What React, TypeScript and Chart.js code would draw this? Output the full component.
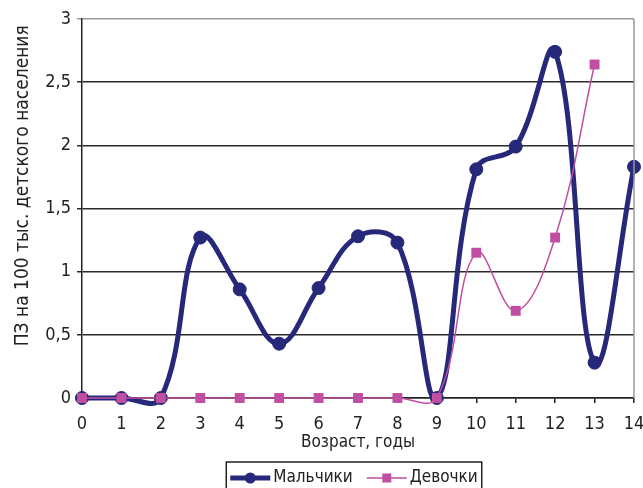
import React, { useEffect, useRef } from "react";
import { Chart, registerables } from "chart.js";

Chart.register(...registerables);

// Возраст (лет) по оси X
const ages = ["0", "1", "2", "3", "4", "5", "6", "7", "8", "9", "10", "11", "12", "13", "14"];
// ПЗ на 100 тыс. детского населения
const boys = [0, 0, 0, 1.27, 0.86, 0.43, 0.87, 1.28, 1.23, 0, 1.81, 1.99, 2.74, 0.28, 1.83];
const girls = [0, 0, 0, 0, 0, 0, 0, 0, 0, 0, 1.15, 0.69, 1.27, 2.64, null];

const boysLabel = "Мальчики";
const girlsLabel = "Девочки";
const xTitle = "Возраст, годы";
const yTitle = "ПЗ на 100 тыс. детского населения";

const NAVY = "#26287a";
const PINK = "#c04fa2";
const TEXT = "#222";
const FONT = "'DejaVu Sans Condensed', 'Liberation Sans Narrow', sans-serif";

// Frame on the right side of the plot, rotated Y title and boxed legend
const decorations = {
  id: "decorations",
  afterDraw(chart: Chart) {
    const { ctx, chartArea } = chart;
    ctx.save();
    ctx.strokeStyle = "#9a9a9a";
    ctx.lineWidth = 1.5;
    ctx.beginPath();
    ctx.moveTo(chartArea.right, chartArea.top);
    ctx.lineTo(chartArea.right, chartArea.bottom);
    ctx.stroke();

    // Y axis title
    ctx.save();
    ctx.translate(23, chartArea.top + chartArea.height * 0.44);
    ctx.rotate(-Math.PI / 2);
    ctx.fillStyle = TEXT;
    ctx.font = `19px ${FONT}`;
    ctx.textAlign = "center";
    ctx.textBaseline = "middle";
    ctx.fillText(yTitle, 0, 0);
    ctx.restore();

    // Legend
    const ds = chart.data.datasets as any[];
    const items = [ds[0], ds[1]];
    ctx.font = `17px ${FONT}`;
    const lineLen = 40;
    const gapAfterLine = 3;
    const gapBetween = 14;
    const widths = items.map((d) => lineLen + gapAfterLine + ctx.measureText(d.label).width);
    const total = widths[0] + widths[1] + gapBetween;
    const pad = 4;
    const cx = (chartArea.left + chartArea.right) / 2 - 4;
    const cy = chartArea.bottom + 80;
    ctx.strokeStyle = TEXT;
    ctx.lineWidth = 1.5;
    ctx.strokeRect(cx - total / 2 - pad, cy - 16, total + pad * 2, 40);
    let x = cx - total / 2;
    items.forEach((d, i) => {
      ctx.strokeStyle = d.borderColor;
      ctx.lineWidth = i === 0 ? 5 : 1.5;
      ctx.beginPath();
      ctx.moveTo(x, cy);
      ctx.lineTo(x + lineLen, cy);
      ctx.stroke();
      ctx.fillStyle = d.backgroundColor;
      if (i === 0) {
        ctx.beginPath();
        ctx.arc(x + lineLen / 2, cy, 5.5, 0, Math.PI * 2);
        ctx.fill();
      } else {
        ctx.fillRect(x + lineLen / 2 - 4.5, cy - 4.5, 9, 9);
      }
      ctx.fillStyle = TEXT;
      ctx.textAlign = "left";
      ctx.textBaseline = "middle";
      ctx.fillText(d.label, x + lineLen + gapAfterLine, cy);
      x += widths[i] + gapBetween;
    });
    ctx.restore();
  },
};

export default function App() {
  const ref = useRef<HTMLCanvasElement>(null);

  useEffect(() => {
    if (!ref.current) return;
    const chart = new Chart(ref.current, {
      type: "line",
      data: {
        labels: ages,
        datasets: [
          {
            label: boysLabel,
            data: boys,
            borderColor: NAVY,
            backgroundColor: NAVY,
            borderWidth: 5,
            pointRadius: 6.5,
            pointBorderWidth: 1,
            pointBorderColor: NAVY,
            pointBackgroundColor: NAVY,
            tension: 0.4,
            order: 1,
            clip: false as any,
          },
          {
            label: girlsLabel,
            data: girls,
            borderColor: PINK,
            backgroundColor: PINK,
            borderWidth: 1.5,
            pointStyle: "rect",
            pointRadius: 7,
            pointBorderWidth: 0,
            pointBackgroundColor: PINK,
            tension: 0.4,
            order: 0,
            clip: false as any,
          },
        ],
      },
      options: {
        responsive: false,
        animation: false,
        devicePixelRatio: 1,
        layout: { padding: { left: 0, right: 9, top: 19, bottom: 32 } },
        elements: { line: { capBezierPoints: false } },
        plugins: {
          legend: { display: false },
          tooltip: { enabled: false },
        },
        scales: {
          x: {
            type: "category",
            offset: false,
            grid: {
              drawOnChartArea: false,
              drawTicks: true,
              tickLength: 5,
              color: TEXT,
              lineWidth: 1.5,
            },
            border: { display: true, color: TEXT, width: 1.5 },
            ticks: {
              color: TEXT,
              font: { family: FONT, size: 18 },
              padding: 11,
              maxRotation: 0,
              autoSkip: false,
            },
            title: {
              display: true,
              text: xTitle,
              color: TEXT,
              font: { family: FONT, size: 17 },
              padding: { top: 0, bottom: 3 },
            },
            afterFit(scale: any) {
              scale.height = 58;
              scale.paddingLeft = 0;
              scale.paddingRight = 0;
            },
          },
          y: {
            min: 0,
            max: 3,
            ticks: {
              stepSize: 0.5,
              color: TEXT,
              font: { family: FONT, size: 18 },
              padding: 6,
              callback: (v: any) => String(v).replace(".", ","),
            },
            grid: {
              color: (c: any) => (c.tick && c.tick.value === 3 ? "#9a9a9a" : "#2a2a2a"),
              lineWidth: 1.5,
              tickLength: 5,
              drawTicks: true,
            },
            border: { display: true, color: TEXT, width: 1.5 },
            afterFit(scale: any) {
              scale.width = 82;
              scale.paddingTop = 0;
              scale.paddingBottom = 0;
            },
          },
        },
      },
      plugins: [decorations],
    });
    return () => chart.destroy();
  }, []);

  return (
    <div style={{ position: "fixed", left: 0, top: 0, width: 643, height: 488, background: "#fff" }}>
      <canvas ref={ref} width={643} height={488} style={{ width: 643, height: 488 }} />
    </div>
  );
}
